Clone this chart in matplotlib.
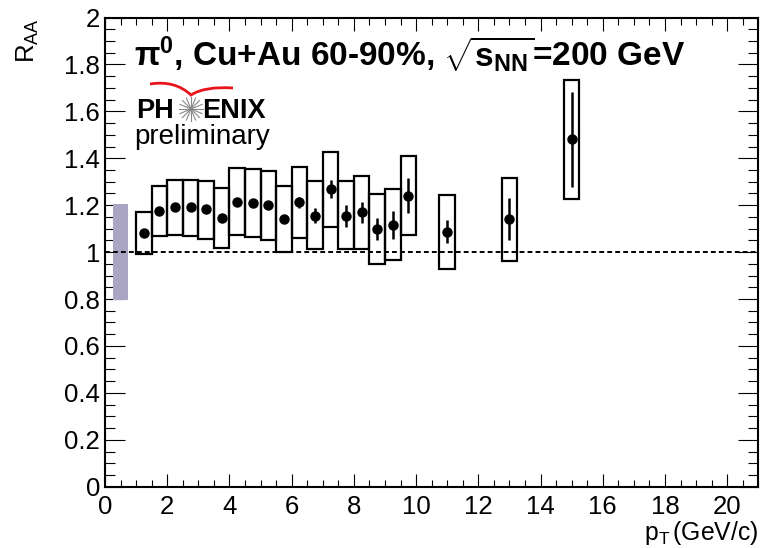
import matplotlib
matplotlib.use("Agg")
import matplotlib.pyplot as plt
import numpy as np
from matplotlib.patches import Rectangle, PathPatch
from matplotlib.path import Path
from matplotlib.ticker import MultipleLocator, FuncFormatter
from matplotlib.transforms import Affine2D

plt.rcParams['font.family'] = ['Liberation Sans', 'DejaVu Sans']
plt.rcParams['mathtext.fontset'] = 'custom'
plt.rcParams['mathtext.rm'] = 'Liberation Sans'
plt.rcParams['mathtext.it'] = 'Liberation Sans:italic'
plt.rcParams['mathtext.bf'] = 'Liberation Sans:bold'

# data: pi0 R_AA in Cu+Au 60-90%
pt = [1.25, 1.75, 2.25, 2.75, 3.25, 3.75, 4.25, 4.75, 5.25, 5.75,
      6.25, 6.75, 7.25, 7.75, 8.25, 8.75, 9.25, 9.75, 11.0, 13.0, 15.0]
raa = [1.081, 1.176, 1.191, 1.191, 1.184, 1.145, 1.214, 1.209, 1.201, 1.140,
       1.212, 1.154, 1.270, 1.154, 1.170, 1.098, 1.115, 1.240, 1.087, 1.140, 1.481]
stat = [0.010, 0.010, 0.010, 0.010, 0.010, 0.010, 0.010, 0.010, 0.010, 0.010,
        0.023, 0.032, 0.039, 0.046, 0.045, 0.048, 0.060, 0.075, 0.050, 0.089, 0.202]
sys_hi = [1.172, 1.282, 1.307, 1.307, 1.304, 1.273, 1.357, 1.353, 1.347, 1.283,
          1.364, 1.302, 1.428, 1.302, 1.324, 1.246, 1.268, 1.410, 1.243, 1.317, 1.734]
sys_lo = [0.992, 1.070, 1.073, 1.068, 1.056, 1.016, 1.073, 1.066, 1.052, 1.002,
          1.061, 1.012, 1.108, 1.012, 1.013, 0.951, 0.968, 1.073, 0.928, 0.962, 1.226]
box_w = 0.5
norm_x = 0.5
norm_unc = 0.205

W, H = 760, 548
fig = plt.figure(figsize=(W/100, H/100), dpi=100)
ax = fig.add_axes([105/W, 1-486.7/H, (758.3-105)/W, (486.7-17.5)/H])
# pixel coords from top-left for decorations
px = Affine2D().scale(1.0/W, -1.0/H).translate(0, 1) + fig.transFigure

# global normalisation box
ax.add_patch(Rectangle((norm_x-0.25, 1-norm_unc), 0.5, 2*norm_unc,
                       facecolor='#a9a5c3', edgecolor='none', zorder=2))
ax.axhline(1.0, color='k', lw=1.4, ls=(0, (2.5, 1.6)), zorder=3)

for i in range(len(pt)):
    ax.add_patch(Rectangle((pt[i]-box_w/2, sys_lo[i]), box_w, sys_hi[i]-sys_lo[i],
                           facecolor='none', edgecolor='k', lw=1.6, zorder=4))
ax.errorbar(pt, raa, yerr=stat, fmt='o', color='k', ms=6.5, elinewidth=1.8,
            capsize=0, zorder=5)

ax.set_xlim(0, 21)
ax.set_ylim(0, 2)
ax.xaxis.set_major_locator(MultipleLocator(2))
ax.xaxis.set_minor_locator(MultipleLocator(0.5))
ax.yaxis.set_major_locator(MultipleLocator(0.2))
ax.yaxis.set_minor_locator(MultipleLocator(0.05))
ax.yaxis.set_major_formatter(FuncFormatter(lambda v, _: '%g' % round(v, 2)))
ax.tick_params(which='both', direction='in', top=True, right=True, width=0.8,
               labelsize=18.5, colors='k')
ax.tick_params(axis='x', which='major', length=9.5, pad=6)
ax.tick_params(axis='x', which='minor', length=5)
ax.tick_params(axis='y', which='major', length=14.4, pad=3.5)
ax.tick_params(axis='y', which='minor', length=7.2)
for s in ax.spines.values():
    s.set_linewidth(1.5)

fig.text(28, 18, r'R$_{\mathrm{AA}}$', transform=px, rotation=90,
         ha='center', va='top', fontsize=18.5)
fig.text(758, 540, r'$\mathrm{p_{T}\,(GeV/c)}$', transform=px,
         ha='right', va='baseline', fontsize=17.8)

# title
fig.text(134, 66, r'π$^{\mathbf{0}}$, Cu+Au 60-90%, $\sqrt{\mathbf{s}_{\mathbf{NN}}}$=200 GeV',
         transform=px, ha='left', va='baseline', fontsize=24, fontweight='bold')

# PHENIX preliminary logo
fig.text(136, 118, 'PH', transform=px, ha='left', va='baseline',
         fontsize=19.5, fontweight='bold')
fig.text(202, 118, 'ENIX', transform=px, ha='left', va='baseline',
         fontsize=19.5, fontweight='bold')
for a in np.linspace(0, np.pi, 9)[:-1]:
    dx, dy = 12*np.cos(a), 12*np.sin(a)
    fig.add_artist(plt.Line2D([191-dx, 191+dx], [109-dy, 109+dy], transform=px,
                              color='#888888', lw=0.8))
swoosh = Path([(150, 84), (175, 80), (191, 95), (205, 86), (233, 88)],
              [Path.MOVETO, Path.CURVE3, Path.CURVE3, Path.CURVE3, Path.CURVE3])
fig.add_artist(PathPatch(swoosh, transform=px, facecolor='none',
                         edgecolor='#e8141c', lw=2.0))
fig.text(134, 144, 'preliminary', transform=px, ha='left', va='baseline',
         fontsize=20)

fig.savefig('out.png', dpi=100)
